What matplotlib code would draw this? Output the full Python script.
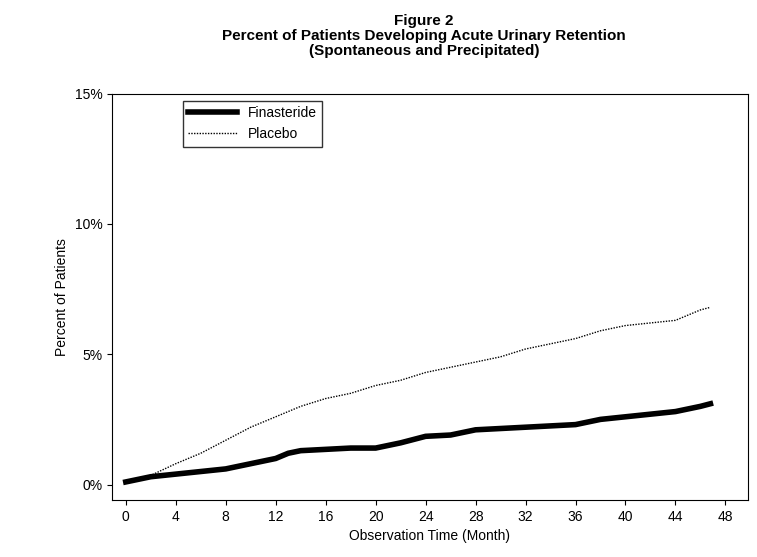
import matplotlib
matplotlib.use("Agg")
import matplotlib.pyplot as plt

plt.rcParams["font.family"] = ["Liberation Sans", "DejaVu Sans"]

months = [0, 1, 2, 4, 6, 8, 10, 12, 13, 14, 16, 18, 20, 22, 24, 26, 28, 30, 32, 34, 36, 38, 40, 42, 44, 46, 46.8]
finasteride = [0.1, 0.2, 0.3, 0.4, 0.5, 0.6, 0.8, 1.0, 1.2, 1.3, 1.35, 1.4, 1.4, 1.6, 1.85, 1.9, 2.1, 2.15, 2.2, 2.25, 2.3, 2.5, 2.6, 2.7, 2.8, 3.0, 3.1]
placebo = [0.1, 0.2, 0.35, 0.8, 1.2, 1.7, 2.2, 2.6, 2.8, 3.0, 3.3, 3.5, 3.8, 4.0, 4.3, 4.5, 4.7, 4.9, 5.2, 5.4, 5.6, 5.9, 6.1, 6.2, 6.3, 6.7, 6.8]
xticks = list(range(0, 49, 4))
yticks = [0, 5, 10, 15]

fig = plt.figure(figsize=(7.57, 5.57), dpi=100)
ax = fig.add_axes([0.148, 0.102, 0.84, 0.73])
ax.plot(months, finasteride, color="black", lw=4, label="Finasteride")
ax.plot(months, placebo, color="black", lw=1, ls=(0, (1, 1)), label="Placebo")
ax.set_xlim(-1.1, 49.8)
ax.set_ylim(-0.6, 15)
ax.set_xticks(xticks)
ax.set_yticks(yticks)
ax.set_yticklabels([f"{v}%" for v in yticks])
ax.tick_params(labelsize=10)
ax.set_xlabel("Observation Time (Month)", fontsize=10)
ax.set_ylabel("Percent of Patients", fontsize=10)
ax.legend(loc="upper left", bbox_to_anchor=(0.1, 1.0), frameon=True, edgecolor="black",
          fancybox=False, fontsize=10, handlelength=3.5)
fig.text(0.56, 0.975, "Figure 2\nPercent of Patients Developing Acute Urinary Retention\n(Spontaneous and Precipitated)",
         ha="center", va="top", fontsize=11, fontweight="bold", linespacing=1.1)
fig.savefig("out.png")
